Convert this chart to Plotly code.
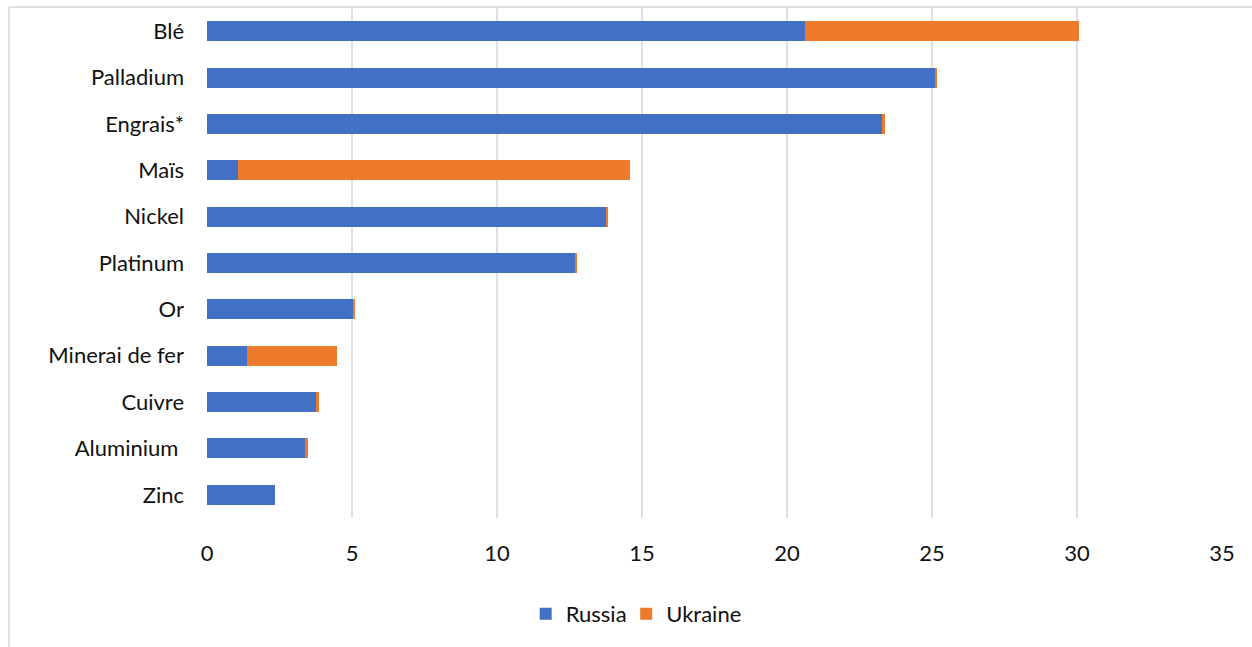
import plotly.graph_objects as go

categories = ["Blé", "Palladium", "Engrais*", "Maïs", "Nickel", "Platinum", "Or",
              "Minerai de fer", "Cuivre", "Aluminium\u00a0", "Zinc"]
russia = [20.62, 25.11, 23.31, 1.07, 13.76, 12.72, 5.06, 1.38, 3.76, 3.38, 2.34]
ukraine = [9.45, 0.05, 0.06, 13.52, 0.04, 0.04, 0.04, 3.10, 0.10, 0.10, 0.0]
x_ticks = [0, 5, 10, 15, 20, 25, 30, 35]

FONT = "Lato, 'Open Sans', sans-serif"

fig = go.Figure()
fig.add_trace(go.Bar(y=categories, x=russia, name="Russia", orientation="h",
                     marker=dict(color="#4170c6", line=dict(width=0)), legend="legend"))
fig.add_trace(go.Bar(y=categories, x=ukraine, name="Ukraine", orientation="h",
                     marker=dict(color="#ee7a2b", line=dict(width=0)), legend="legend2"))

leg_common = dict(orientation="h", y=-0.188, yanchor="middle", xanchor="left",
                  font=dict(size=22), itemwidth=30, bgcolor="rgba(0,0,0,0)")

fig.update_layout(
    barmode="stack",
    bargap=0.57,
    width=1252, height=647,
    margin=dict(l=207, r=30, t=8, b=129, pad=0),
    paper_bgcolor="white", plot_bgcolor="white",
    font=dict(family=FONT, size=22, color="#111111"),
    showlegend=True,
    legend=dict(x=0.314, **leg_common),
    legend2=dict(x=0.413, **leg_common),
    xaxis=dict(range=[0, 35], tickvals=x_ticks, showgrid=True, gridcolor="#dde1e6",
               gridwidth=1.5, zeroline=False, showline=False, ticks="",
               ticklabelstandoff=20, fixedrange=True),
    yaxis=dict(categoryorder="array", categoryarray=categories, autorange="reversed",
               showgrid=False, zeroline=False, showline=False, ticks="",
               ticklabelstandoff=22),
    shapes=[
        dict(type="line", xref="paper", yref="paper", x0=-0.195, x1=-0.195, y0=1.002, y1=-0.3,
             line=dict(color="#dde1e6", width=2)),
        dict(type="line", xref="paper", yref="paper", x0=-0.195, x1=1.03, y0=1.002, y1=1.002,
             line=dict(color="#dde1e6", width=2)),
    ],
)

fig.write_html("out.html")
